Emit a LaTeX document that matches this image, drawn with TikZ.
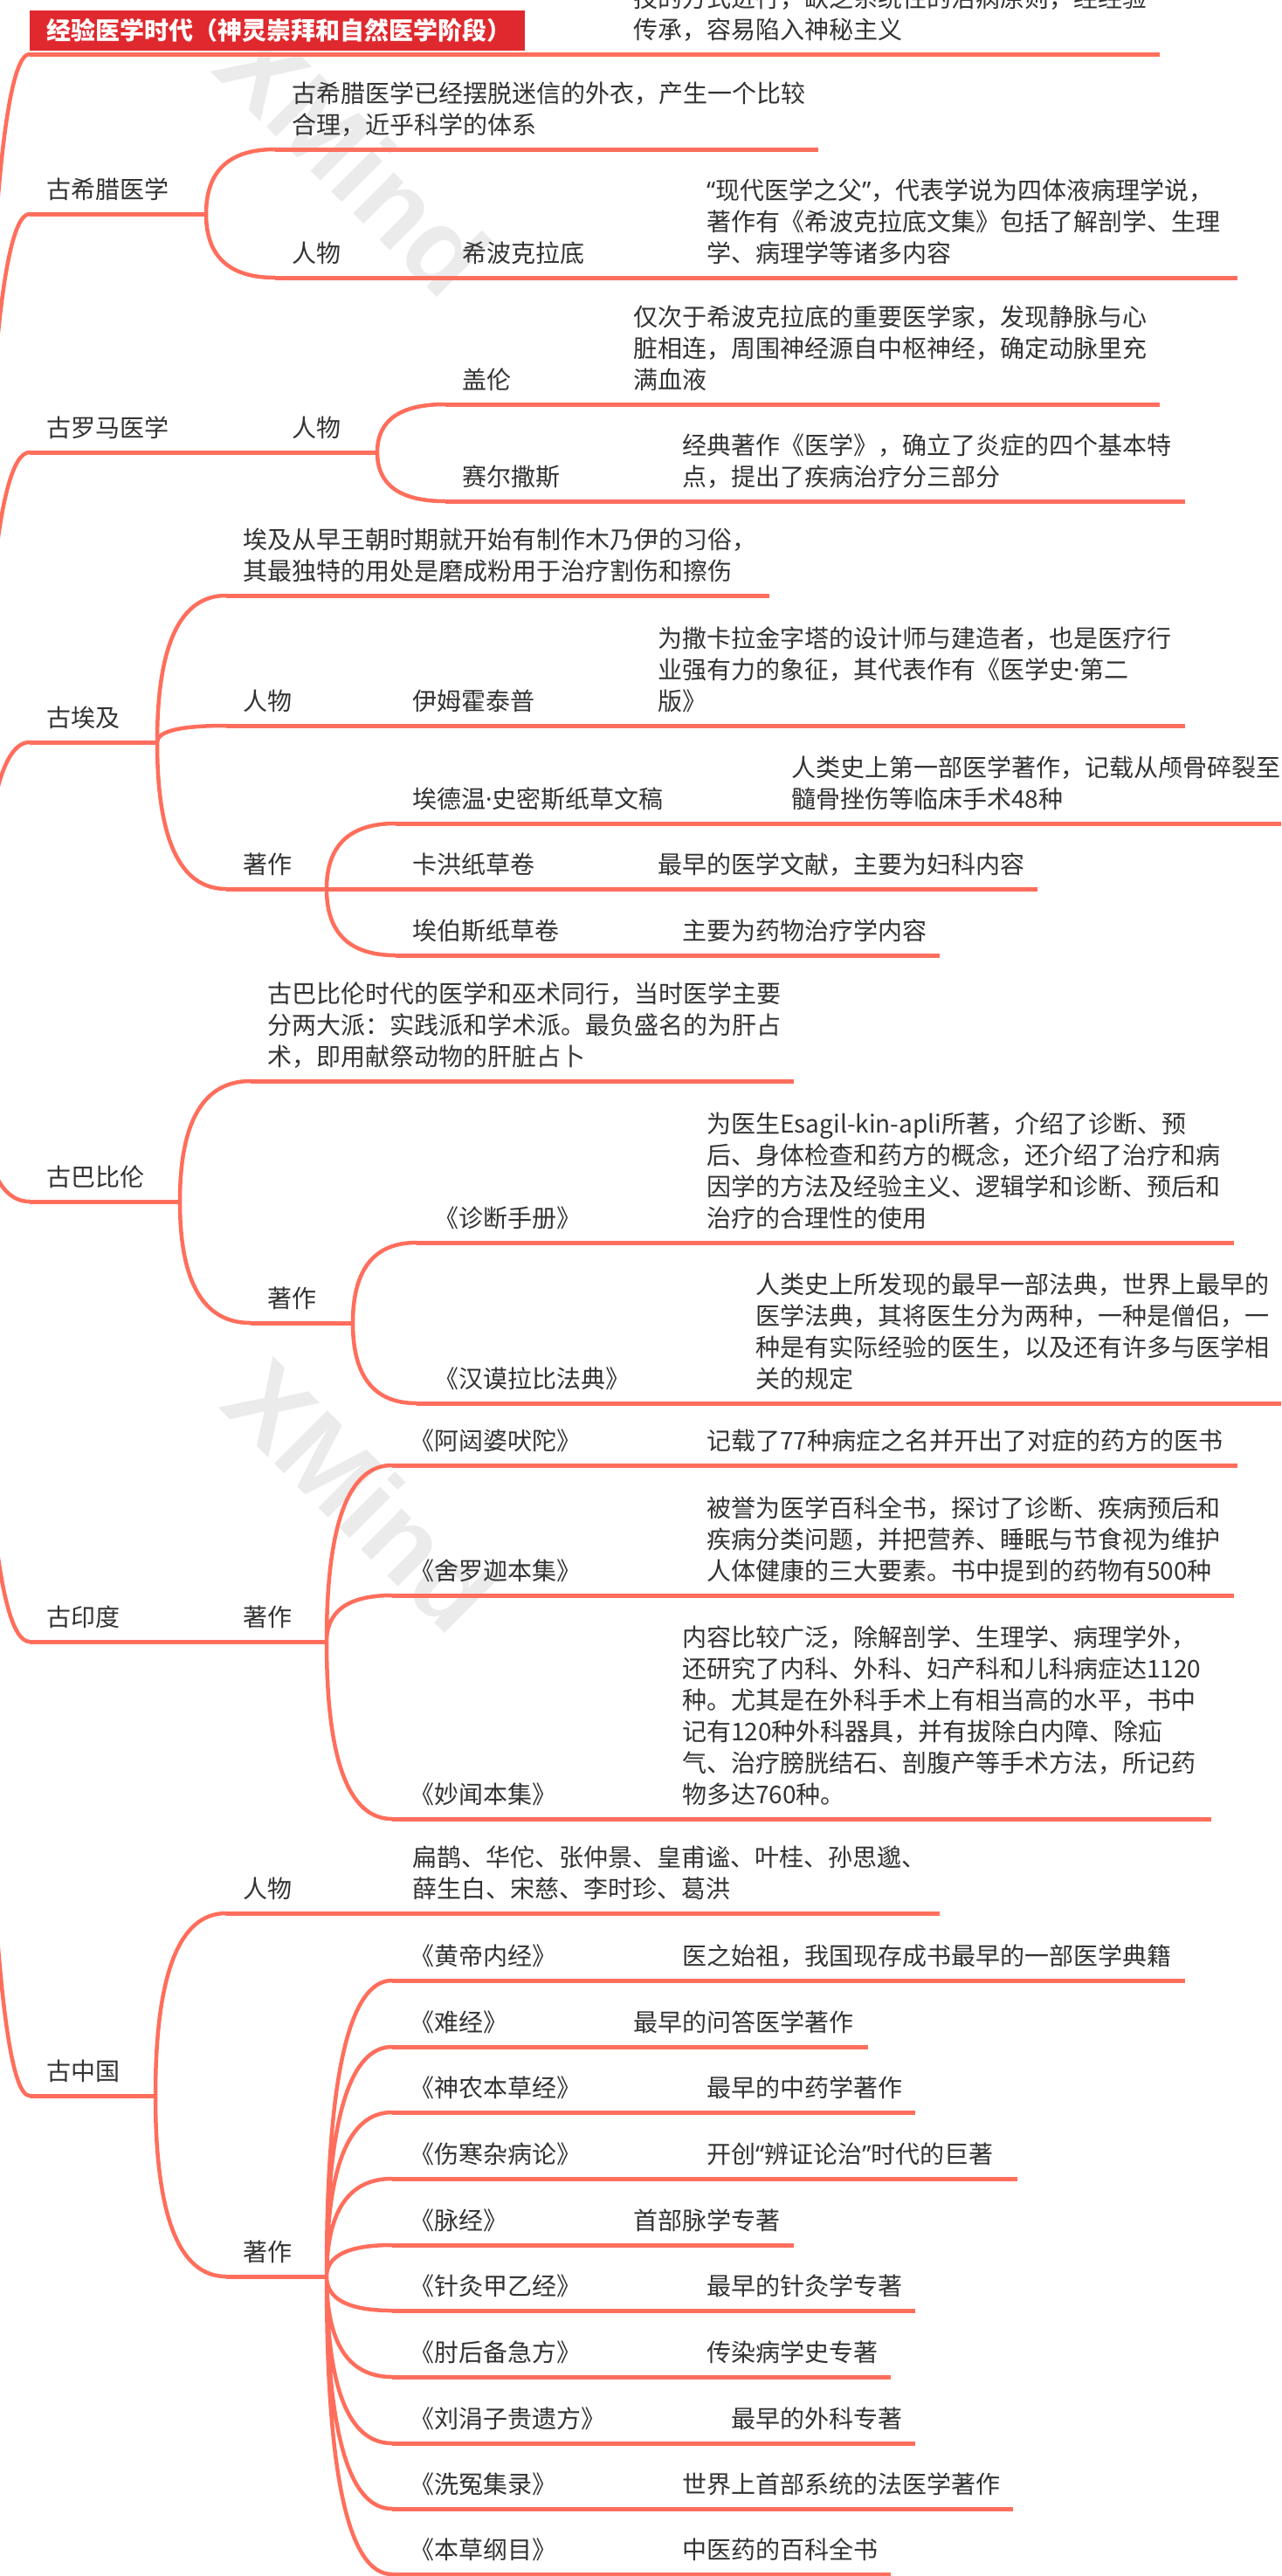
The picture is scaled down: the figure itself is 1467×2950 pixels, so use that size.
\documentclass[tikz,border=0pt]{standalone}
\usepackage{fontspec}
\setmainfont{Noto Sans CJK SC}
\newfontfamily\markfont{Liberation Sans}
\newfontfamily\quotefont{Noto Sans}
\newcommand{\qopen}{{\quotefont “}}
\newcommand{\qclose}{{\quotefont ”}}
\newcommand{\mdot}{{\quotefont ·}}
\usetikzlibrary{calc}

\definecolor{linecoral}{HTML}{FF6E5C}
\definecolor{headred}{HTML}{E0292E}
\definecolor{inkgray}{HTML}{333333}

\begin{document}
\begin{tikzpicture}[
    x=1pt, y=-1pt,
    topic/.style={anchor=base west, inner sep=0pt, align=left, text=inkgray, font=\fontsize{28}{36}\selectfont},
    header/.style={anchor=west, fill=headred, text=white, inner xsep=19pt, inner ysep=0pt, text width=529pt, minimum height=46pt, font=\fontsize{28}{36}\selectfont\bfseries},
    uline/.style={draw=linecoral, line width=5pt},
    branch/.style={draw=linecoral, line width=4.5pt, line cap=round,
        to path={.. controls ($(\tikztostart)!2/3!(\tikztostart |- \tikztotarget)$) and ($(\tikztotarget)!2/3!(\tikztostart |- \tikztotarget)$) .. (\tikztotarget)}},
    watermark/.style={text=black!8, rotate=-45, font=\markfont\bfseries\fontsize{125}{125}\selectfont}
]
\useasboundingbox (0,0) rectangle (1467,2950);
\clip (0,0) rectangle (1467,2950);

% Watermark
\node[watermark] (mark1) at (405,182) {XMind};
\node[watermark] (mark2) at (414,1712) {XMind};

% Root and first level
\coordinate (root) at (-25,1203);
\coordinate (top-s) at (34,62);        \coordinate (top-e) at (1328,62);
\coordinate (greece-s) at (34,245);    \coordinate (greece-e) at (236,245);
\coordinate (rome-s) at (34,518);      \coordinate (rome-e) at (432,518);
\coordinate (egypt-s) at (34,850);     \coordinate (egypt-e) at (180,850);
\coordinate (babylon-s) at (34,1376);  \coordinate (babylon-e) at (206,1376);
\coordinate (india-s) at (34,1880);    \coordinate (india-e) at (374,1880);
\coordinate (china-s) at (34,2400);    \coordinate (china-e) at (178,2400);

\node[topic] (top-note) at (725,44) {技的方式进行，缺乏系统性的治病原则，经经验\\传承，容易陷入神秘主义};
\node[header] (title) at (34,35) {经验医学时代（神灵崇拜和自然医学阶段）};

% Ancient Greece
\node[topic] (greece) at (53,227) {古希腊医学};
\coordinate (gr-desc-s) at (315,171);  \coordinate (gr-desc-e) at (937,171);
\node[topic] (gr-desc) at (334,153) {古希腊医学已经摆脱迷信的外衣，产生一个比较\\合理，近乎科学的体系};
\coordinate (gr-who-s) at (315,318);   \coordinate (gr-who-e) at (1417,318);
\node[topic] (gr-who) at (334,300) {人物};
\node[topic] (hippo) at (529,300) {希波克拉底};
\node[topic] (hippo-note) at (809,300) {\qopen 现代医学之父\qclose ，代表学说为四体液病理学说，\\著作有《希波克拉底文集》包括了解剖学、生理\\学、病理学等诸多内容};

% Ancient Rome
\node[topic] (rome) at (53,500) {古罗马医学};
\node[topic] (rome-who) at (334,500) {人物};
\coordinate (galen-s) at (510,463);    \coordinate (galen-e) at (1328,463);
\node[topic] (galen) at (529,445) {盖伦};
\node[topic] (galen-note) at (725,445) {仅次于希波克拉底的重要医学家，发现静脉与心\\脏相连，周围神经源自中枢神经，确定动脉里充\\满血液};
\coordinate (celsus-s) at (510,574);   \coordinate (celsus-e) at (1357,574);
\node[topic] (celsus) at (529,556) {赛尔撒斯};
\node[topic] (celsus-note) at (781,556) {经典著作《医学》，确立了炎症的四个基本特\\点，提出了疾病治疗分三部分};

% Ancient Egypt
\node[topic] (egypt) at (53,832) {古埃及};
\coordinate (eg-desc-s) at (259,682);  \coordinate (eg-desc-e) at (881,682);
\node[topic] (eg-desc) at (278,664) {埃及从早王朝时期就开始有制作木乃伊的习俗，\\其最独特的用处是磨成粉用于治疗割伤和擦伤};
\coordinate (eg-who-s) at (259,831);   \coordinate (eg-who-e) at (1357,831);
\node[topic] (eg-who) at (278,813) {人物};
\node[topic] (imhotep) at (472,813) {伊姆霍泰普};
\node[topic] (imhotep-note) at (753,813) {为撒卡拉金字塔的设计师与建造者，也是医疗行\\业强有力的象征，其代表作有《医学史\mdot 第二\\版》};
\coordinate (eg-works-s) at (259,1018); \coordinate (eg-works-b) at (374,1018); \coordinate (eg-works-e) at (1188,1018);
\node[topic] (eg-works) at (278,1000) {著作};
\node[topic] (kahun) at (472,1000) {卡洪纸草卷};
\node[topic] (kahun-note) at (753,1000) {最早的医学文献，主要为妇科内容};
\coordinate (smith-s) at (453,943);    \coordinate (smith-e) at (1480,943);
\node[topic] (smith) at (472,925) {埃德温\mdot 史密斯纸草文稿};
\node[topic] (smith-note) at (906,925) {人类史上第一部医学著作，记载从颅骨碎裂至\\髓骨挫伤等临床手术48种};
\coordinate (ebers-s) at (453,1094);   \coordinate (ebers-e) at (1076,1094);
\node[topic] (ebers) at (472,1076) {埃伯斯纸草卷};
\node[topic] (ebers-note) at (781,1076) {主要为药物治疗学内容};

% Ancient Babylon
\node[topic] (babylon) at (53,1358) {古巴比伦};
\coordinate (ba-desc-s) at (287,1238); \coordinate (ba-desc-e) at (909,1238);
\node[topic] (ba-desc) at (306,1220) {古巴比伦时代的医学和巫术同行，当时医学主要\\分两大派：实践派和学术派。最负盛名的为肝占\\术，即用献祭动物的肝脏占卜};
\coordinate (ba-works-s) at (287,1515); \coordinate (ba-works-e) at (404,1515);
\node[topic] (ba-works) at (306,1497) {著作};
\coordinate (diag-s) at (477,1423);    \coordinate (diag-e) at (1413,1423);
\node[topic] (diag) at (497,1405) {《诊断手册》};
\node[topic] (diag-note) at (809,1405) {为医生Esagil-kin-apli所著，介绍了诊断、预\\后、身体检查和药方的概念，还介绍了治疗和病\\因学的方法及经验主义、逻辑学和诊断、预后和\\治疗的合理性的使用};
\coordinate (hammu-s) at (477,1607);   \coordinate (hammu-e) at (1480,1607);
\node[topic] (hammu) at (497,1589) {《汉谟拉比法典》};
\node[topic] (hammu-note) at (865,1589) {人类史上所发现的最早一部法典，世界上最早的\\医学法典，其将医生分为两种，一种是僧侣，一\\种是有实际经验的医生，以及还有许多与医学相\\关的规定};

% Ancient India
\node[topic] (india) at (53,1862) {古印度};
\node[topic] (in-works) at (278,1862) {著作};
\coordinate (atharva-s) at (449,1678); \coordinate (atharva-e) at (1417,1678);
\node[topic] (atharva) at (469,1660) {《阿闼婆吠陀》};
\node[topic] (atharva-note) at (809,1660) {记载了77种病症之名并开出了对症的药方的医书};
\coordinate (charaka-s) at (449,1827); \coordinate (charaka-e) at (1413,1827);
\node[topic] (charaka) at (469,1809) {《舍罗迦本集》};
\node[topic] (charaka-note) at (809,1809) {被誉为医学百科全书，探讨了诊断、疾病预后和\\疾病分类问题，并把营养、睡眠与节食视为维护\\人体健康的三大要素。书中提到的药物有500种};
\coordinate (sushruta-s) at (449,2083); \coordinate (sushruta-e) at (1387,2083);
\node[topic] (sushruta) at (469,2065) {《妙闻本集》};
\node[topic] (sushruta-note) at (781,2065) {内容比较广泛，除解剖学、生理学、病理学外，\\还研究了内科、外科、妇产科和儿科病症达1120\\种。尤其是在外科手术上有相当高的水平，书中\\记有120种外科器具，并有拔除白内障、除疝\\气、治疗膀胱结石、剖腹产等手术方法，所记药\\物多达760种。};

% Ancient China
\node[topic] (china) at (53,2382) {古中国};
\coordinate (cn-who-s) at (259,2191);  \coordinate (cn-who-e) at (1076,2191);
\node[topic] (cn-who) at (278,2173) {人物};
\node[topic] (cn-names) at (472,2173) {扁鹊、华佗、张仲景、皇甫谧、叶桂、孙思邈、\\薛生白、宋慈、李时珍、葛洪};
\coordinate (cn-works-s) at (259,2607); \coordinate (cn-works-e) at (374,2607);
\node[topic] (cn-works) at (278,2589) {著作};

\coordinate (huangdi-s) at (449,2268);   \coordinate (huangdi-e) at (1357,2268);
\node[topic] (huangdi) at (469,2250) {《黄帝内经》};
\node[topic] (huangdi-note) at (781,2250) {医之始祖，我国现存成书最早的一部医学典籍};
\coordinate (nanjing-s) at (449,2344);   \coordinate (nanjing-e) at (994,2344);
\node[topic] (nanjing) at (469,2326) {《难经》};
\node[topic] (nanjing-note) at (725,2326) {最早的问答医学著作};
\coordinate (shennong-s) at (449,2419);  \coordinate (shennong-e) at (1048,2419);
\node[topic] (shennong) at (469,2401) {《神农本草经》};
\node[topic] (shennong-note) at (809,2401) {最早的中药学著作};
\coordinate (shanghan-s) at (449,2495);  \coordinate (shanghan-e) at (1165,2495);
\node[topic] (shanghan) at (469,2477) {《伤寒杂病论》};
\node[topic] (shanghan-note) at (809,2477) {开创\qopen 辨证论治\qclose 时代的巨著};
\coordinate (maijing-s) at (449,2571);   \coordinate (maijing-e) at (909,2571);
\node[topic] (maijing) at (469,2553) {《脉经》};
\node[topic] (maijing-note) at (725,2553) {首部脉学专著};
\coordinate (zhenjiu-s) at (449,2646);   \coordinate (zhenjiu-e) at (1048,2646);
\node[topic] (zhenjiu) at (469,2628) {《针灸甲乙经》};
\node[topic] (zhenjiu-note) at (809,2628) {最早的针灸学专著};
\coordinate (zhouhou-s) at (449,2722);   \coordinate (zhouhou-e) at (1020,2722);
\node[topic] (zhouhou) at (469,2704) {《肘后备急方》};
\node[topic] (zhouhou-note) at (809,2704) {传染病学史专著};
\coordinate (liujuanzi-s) at (449,2798); \coordinate (liujuanzi-e) at (1048,2798);
\node[topic] (liujuanzi) at (469,2780) {《刘涓子贵遗方》};
\node[topic] (liujuanzi-note) at (837,2780) {最早的外科专著};
\coordinate (xiyuan-s) at (449,2873);    \coordinate (xiyuan-e) at (1160,2873);
\node[topic] (xiyuan) at (469,2855) {《洗冤集录》};
\node[topic] (xiyuan-note) at (781,2855) {世界上首部系统的法医学著作};
\coordinate (bencao-s) at (449,2948);    \coordinate (bencao-e) at (1020,2948);
\node[topic] (bencao) at (469,2930) {《本草纲目》};
\node[topic] (bencao-note) at (781,2930) {中医药的百科全书};

% Underlines
\draw[uline] (top-s) -- (top-e);
\draw[uline] (greece-s) -- (greece-e);
\draw[uline] (gr-desc-s) -- (gr-desc-e);
\draw[uline] (gr-who-s) -- (gr-who-e);
\draw[uline] (rome-s) -- (rome-e);
\draw[uline] (galen-s) -- (galen-e);
\draw[uline] (celsus-s) -- (celsus-e);
\draw[uline] (egypt-s) -- (egypt-e);
\draw[uline] (eg-desc-s) -- (eg-desc-e);
\draw[uline] (eg-who-s) -- (eg-who-e);
\draw[uline] (eg-works-s) -- (eg-works-e);
\draw[uline] (smith-s) -- (smith-e);
\draw[uline] (ebers-s) -- (ebers-e);
\draw[uline] (babylon-s) -- (babylon-e);
\draw[uline] (ba-desc-s) -- (ba-desc-e);
\draw[uline] (ba-works-s) -- (ba-works-e);
\draw[uline] (diag-s) -- (diag-e);
\draw[uline] (hammu-s) -- (hammu-e);
\draw[uline] (india-s) -- (india-e);
\draw[uline] (atharva-s) -- (atharva-e);
\draw[uline] (charaka-s) -- (charaka-e);
\draw[uline] (sushruta-s) -- (sushruta-e);
\draw[uline] (china-s) -- (china-e);
\draw[uline] (cn-who-s) -- (cn-who-e);
\draw[uline] (cn-works-s) -- (cn-works-e);
\draw[uline] (huangdi-s) -- (huangdi-e);
\draw[uline] (nanjing-s) -- (nanjing-e);
\draw[uline] (shennong-s) -- (shennong-e);
\draw[uline] (shanghan-s) -- (shanghan-e);
\draw[uline] (maijing-s) -- (maijing-e);
\draw[uline] (zhenjiu-s) -- (zhenjiu-e);
\draw[uline] (zhouhou-s) -- (zhouhou-e);
\draw[uline] (liujuanzi-s) -- (liujuanzi-e);
\draw[uline] (xiyuan-s) -- (xiyuan-e);
\draw[uline] (bencao-s) -- (bencao-e);

% Branches
\draw[branch] (root) to (top-s) (root) to (greece-s) (root) to (rome-s) (root) to (egypt-s)
    (root) to (babylon-s) (root) to (india-s) (root) to (china-s);
\draw[branch] (greece-e) to (gr-desc-s) (greece-e) to (gr-who-s);
\draw[branch] (rome-e) to (galen-s) (rome-e) to (celsus-s);
\draw[branch] (egypt-e) to (eg-desc-s) (egypt-e) to (eg-who-s) (egypt-e) to (eg-works-s);
\draw[branch] (eg-works-b) to (smith-s) (eg-works-b) to (ebers-s);
\draw[branch] (babylon-e) to (ba-desc-s) (babylon-e) to (ba-works-s);
\draw[branch] (ba-works-e) to (diag-s) (ba-works-e) to (hammu-s);
\draw[branch] (india-e) to (atharva-s) (india-e) to (charaka-s) (india-e) to (sushruta-s);
\draw[branch] (china-e) to (cn-who-s) (china-e) to (cn-works-s);
\draw[branch] (cn-works-e) to (huangdi-s) (cn-works-e) to (nanjing-s) (cn-works-e) to (shennong-s)
    (cn-works-e) to (shanghan-s) (cn-works-e) to (maijing-s) (cn-works-e) to (zhenjiu-s)
    (cn-works-e) to (zhouhou-s) (cn-works-e) to (liujuanzi-s) (cn-works-e) to (xiyuan-s)
    (cn-works-e) to (bencao-s);

\end{tikzpicture}
\end{document}
